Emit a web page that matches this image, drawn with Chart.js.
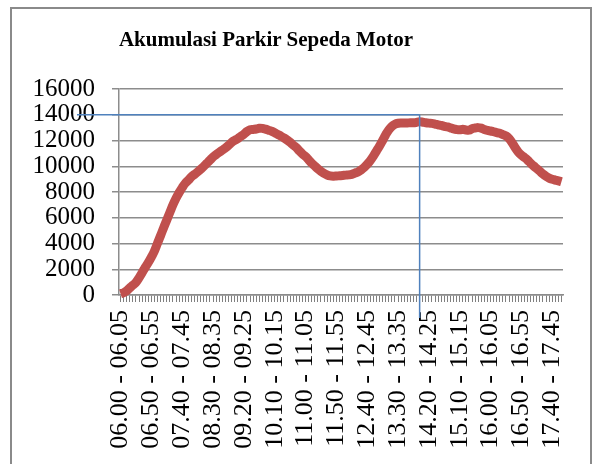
<!DOCTYPE html>
<html>
<head>
<meta charset="utf-8">
<script src="https://cdn.jsdelivr.net/npm/chart.js@4.4.1/dist/chart.umd.min.js"></script>
<style>
  html, body { margin: 0; padding: 0; background: #fff; }
  body { width: 593px; height: 464px; position: relative; overflow: hidden; }
  #frame { position: absolute; left: 10px; top: 7px; width: 578px; height: 470px; border: 2px solid #8a8a8a; }
  #title { position: absolute; left: 0; top: 27px; width: 532px; text-align: center;
           font: bold 21px "Liberation Serif", "Times New Roman", serif; color: #000; }
  #chart { position: absolute; left: 0; top: 0; }
</style>
</head>
<body>
<div id="frame"></div>
<canvas id="chart" width="593" height="464"></canvas>
<div id="title">Akumulasi Parkir Sepeda Motor</div>
<script>
// 5-minute intervals 06.00 - 18.00
const startTimes = [];
for (let m = 6 * 60; m < 18 * 60; m += 5) startTimes.push(m);
const pad = n => String(n).padStart(2, '0');
const fmt = m => pad(Math.floor(m / 60)) + '.' + pad(m % 60);
const categories = startTimes.map(m => fmt(m) + ' - ' + fmt(m + 5));

// akumulasi
const akumulasi = [
  100, 180, 330, 560, 760, 980, 1330, 1720, 2150, 2520,
  2950, 3420, 4030, 4620, 5240, 5830, 6420, 7010, 7520, 7950,
  8340, 8680, 8920, 9180, 9370, 9560, 9770, 9990, 10230, 10470,
  10720, 10910, 11080, 11250, 11420, 11620, 11850, 12010, 12140, 12320,
  12490, 12700, 12830, 12860, 12890, 12950, 12940, 12880, 12800, 12720,
  12600, 12470, 12340, 12200, 12040, 11860, 11640, 11450, 11190, 10950,
  10750, 10500, 10240, 10020, 9790, 9600, 9440, 9320, 9250, 9230,
  9240, 9260, 9280, 9310, 9330, 9370, 9470, 9560, 9710, 9900,
  10150, 10440, 10790, 11180, 11570, 12000, 12450, 12830, 13100, 13260,
  13340, 13360, 13350, 13360, 13380, 13370, 13410, 13460, 13420, 13380,
  13350, 13330, 13280, 13220, 13170, 13100, 13050, 12980, 12900, 12850,
  12830, 12870, 12820, 12800, 12920, 12970, 13000, 12960, 12850, 12780,
  12740, 12680, 12620, 12560, 12460, 12360, 12150, 11830, 11430, 11100,
  10860, 10680, 10480, 10240, 10020, 9820, 9610, 9390, 9220, 9080,
  8990, 8930, 8870, 8800
];

const yTicks = [0, 2000, 4000, 6000, 8000, 10000, 12000, 14000, 16000];
const markIndex = 97;     // puncak
const markValue = 14000;

const gridGray = '#8c8c8c';

// garis bantu biru
const markerLines = {
  id: 'markerLines',
  afterDraw(chart) {
    const { ctx, chartArea, scales } = chart;
    const x = scales.x.getPixelForValue(markIndex);
    const y = scales.y.getPixelForValue(markValue);
    ctx.save();
    ctx.strokeStyle = '#4f81bd';
    ctx.lineWidth = 1.5;
    ctx.beginPath();
    ctx.moveTo(chartArea.left - 42, y);
    ctx.lineTo(x, y);
    ctx.moveTo(x, y);
    ctx.lineTo(x, chartArea.bottom + 23);
    ctx.stroke();
    ctx.restore();
  }
};

new Chart(document.getElementById('chart'), {
  type: 'line',
  data: {
    labels: categories,
    datasets: [{
      data: akumulasi,
      borderColor: '#c0504d',
      borderWidth: 9,
      borderJoinStyle: 'round',
      tension: 0.4,
      pointRadius: 0,
      clip: 10
    }]
  },
  options: {
    responsive: false,
    animation: false,
    devicePixelRatio: 1,
    layout: { padding: { left: 0, right: 30, top: 89, bottom: 0 } },
    plugins: { legend: { display: false }, tooltip: { enabled: false } },
    scales: {
      x: {
        type: 'category',
        offset: true,
        grid: { display: true, drawOnChartArea: false, drawTicks: true, tickLength: 7, color: '#808080', lineWidth: 1 },
        border: { color: gridGray, width: 1.5 },
        ticks: {
          autoSkip: false,
          maxRotation: 90,
          minRotation: 90,
          padding: 8,
          color: '#000',
          font: { family: '"Liberation Serif", "Times New Roman", serif', size: 26 },
          callback: (v, i) => (i % 10 === 0 ? categories[i] : '')
        },
        afterFit: s => { s.height = 169; s.paddingLeft = 0; s.paddingRight = 0; }
      },
      y: {
        min: 0,
        max: 16000,
        afterBuildTicks: s => { s.ticks = yTicks.map(v => ({ value: v })); },
        grid: { color: gridGray, lineWidth: 1.5, tickLength: 7 },
        border: { color: gridGray, width: 1.5 },
        ticks: {
          autoSkip: false,
          padding: 17,
          color: '#000',
          font: { family: '"Liberation Serif", "Times New Roman", serif', size: 25 },
          callback: v => String(v)
        },
        afterFit: s => { s.width = 119; }
      }
    }
  },
  plugins: [markerLines]
});
</script>
</body>
</html>
